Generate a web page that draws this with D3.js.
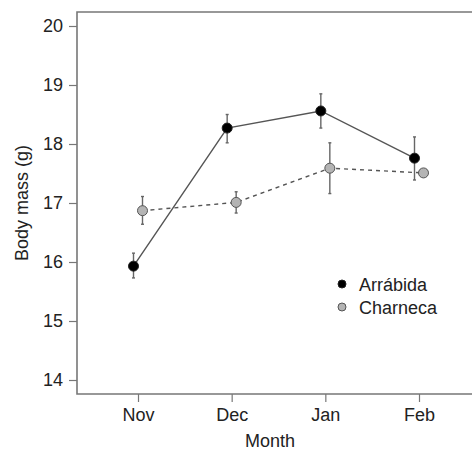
<!DOCTYPE html>
<html lang="en">
<head>
<meta charset="utf-8" />
<script src="https://d3js.org/d3.v7.min.js"></script>
<style>
  body { margin: 0; background: #fff; }
  text { font-family: "Liberation Sans", Arial, sans-serif; fill: #222; }
</style>
</head>
<body>
<div id="chart"></div>
<script>
// data
const months = ["Nov", "Dec", "Jan", "Feb"];
const arrabida = [15.93, 18.27, 18.56, 17.76];
const arrabidaLo = [15.73, 18.02, 18.27, 17.39];
const arrabidaHi = [16.15, 18.50, 18.85, 18.12];
const charneca = [16.87, 17.01, 17.59, 17.51];
const charnecaLo = [16.64, 16.83, 17.16, 17.51];
const charnecaHi = [17.11, 17.19, 18.02, 17.51];
const yTicks = [14, 15, 16, 17, 18, 19, 20];

const width = 472, height = 450;
const frame = { left: 77, top: 12, bottom: 394, right: 476 };
const fontSize = 18;

const x = d3.scalePoint().domain(months).range([138, 419]);
const y = d3.scaleLinear().domain([14, 20]).range([380, 26]);

const svg = d3.select("#chart").append("svg")
    .attr("width", width)
    .attr("height", height);

// frame (right side runs off the picture)
svg.append("path")
    .attr("d", `M${frame.right},${frame.top}H${frame.left}V${frame.bottom}H${frame.right}`)
    .attr("fill", "none")
    .attr("stroke", "#777")
    .attr("stroke-width", 1.6);

// axes
const yAxis = svg.append("g")
    .attr("transform", `translate(${frame.left},0)`)
    .call(d3.axisLeft(y).tickValues(yTicks).tickSize(8).tickPadding(6).tickFormat(d3.format("d")));
yAxis.select(".domain").remove();
yAxis.selectAll("line").attr("stroke", "#777").attr("stroke-width", 1.2);
yAxis.selectAll("text").attr("font-size", fontSize).attr("fill", "#222");

const xAxis = svg.append("g")
    .attr("transform", `translate(0,${frame.bottom})`)
    .call(d3.axisBottom(x).tickSize(8).tickPadding(6));
xAxis.select(".domain").remove();
xAxis.selectAll("line").attr("stroke", "#777").attr("stroke-width", 1.2);
xAxis.selectAll("text").attr("font-size", fontSize).attr("fill", "#222");

// axis titles
svg.append("text")
    .attr("transform", "translate(28,203) rotate(-90)")
    .attr("text-anchor", "middle")
    .attr("font-size", fontSize)
    .text("Body mass (g)");

svg.append("text")
    .attr("x", 270)
    .attr("y", 447)
    .attr("text-anchor", "middle")
    .attr("font-size", fontSize)
    .text("Month");

// series
const series = [
  { name: "Arrábida", vals: arrabida, lo: arrabidaLo, hi: arrabidaHi, dx: -4.5, fill: "#000", stroke: "#222", dash: null },
  { name: "Charneca", vals: charneca, lo: charnecaLo, hi: charnecaHi, dx: 4.5, fill: "#b4b4b4", stroke: "#555", dash: "4,4" }
];

series.forEach(function (s) {
  const pts = months.map((m, i) => ({ m: m, v: s.vals[i], lo: s.lo[i], hi: s.hi[i] }));
  const g = svg.append("g");

  g.append("path")
    .datum(pts)
    .attr("fill", "none")
    .attr("stroke", "#555")
    .attr("stroke-width", 1.4)
    .attr("stroke-dasharray", s.dash)
    .attr("d", d3.line().x(d => x(d.m) + s.dx).y(d => y(d.v)));

  // error bars
  const eb = g.selectAll(".eb").data(pts.filter(d => d.hi > d.lo)).enter().append("g");
  eb.append("line")
    .attr("x1", d => x(d.m) + s.dx).attr("x2", d => x(d.m) + s.dx)
    .attr("y1", d => y(d.lo)).attr("y2", d => y(d.hi))
    .attr("stroke", "#666").attr("stroke-width", 1.4);
  ["lo", "hi"].forEach(function (k) {
    eb.append("line")
      .attr("x1", d => x(d.m) + s.dx - 1.5).attr("x2", d => x(d.m) + s.dx + 1.5)
      .attr("y1", d => y(d[k])).attr("y2", d => y(d[k]))
      .attr("stroke", "#666").attr("stroke-width", 1.4);
  });

  g.selectAll("circle").data(pts).enter().append("circle")
    .attr("cx", d => x(d.m) + s.dx)
    .attr("cy", d => y(d.v))
    .attr("r", 5)
    .attr("fill", s.fill)
    .attr("stroke", s.stroke)
    .attr("stroke-width", 1);
});

// legend
const legend = svg.append("g").attr("transform", "translate(342,284)");
series.forEach(function (s, i) {
  legend.append("circle")
    .attr("cx", 0).attr("cy", i * 23)
    .attr("r", 4)
    .attr("fill", s.fill)
    .attr("stroke", s.stroke);
  legend.append("text")
    .attr("x", 17).attr("y", i * 23 + 7)
    .attr("font-size", fontSize)
    .text(s.name);
});
</script>
</body>
</html>
